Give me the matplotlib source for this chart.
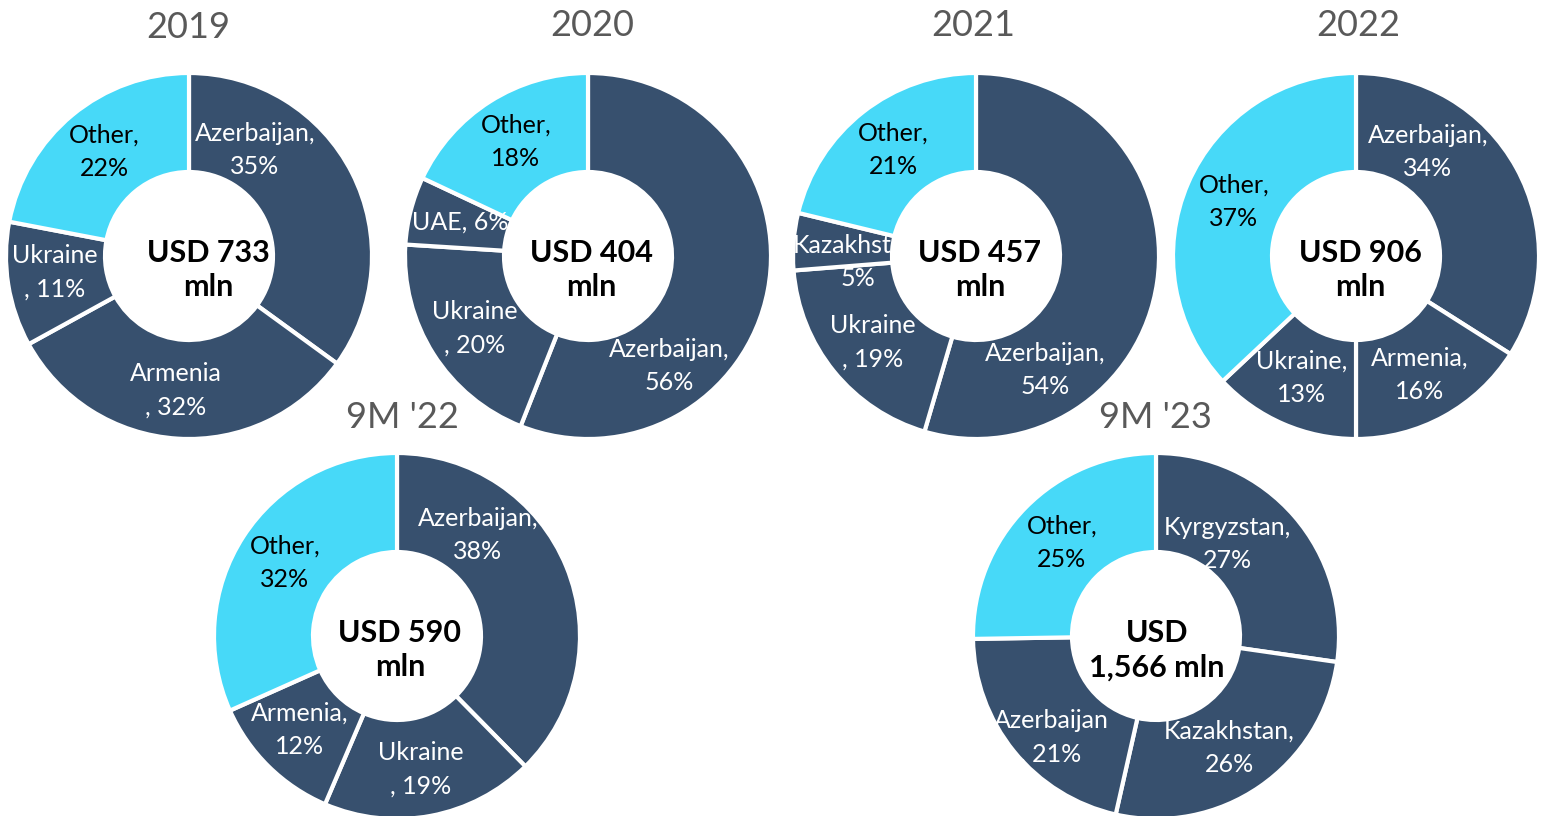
import matplotlib.pyplot as plt
from matplotlib.patches import Circle

plt.rcParams['font.family'] = ['Lato', 'DejaVu Sans']

# ── data ─────────────────────────────────────────────────────────────
titles = ["2019", "2020", "2021", "2022", "9M '22", "9M '23"]
totals = ["USD 733\nmln", "USD 404\nmln", "USD 457\nmln",
          "USD 906\nmln", "USD 590\nmln", "USD\n1,566 mln"]

names_2019 = ["Azerbaijan", "Armenia", "Ukraine", "Other"]
share_2019 = [35, 32, 11, 22]
names_2020 = ["Azerbaijan", "Ukraine", "UAE", "Other"]
share_2020 = [56, 20, 6, 18]
names_2021 = ["Azerbaijan", "Ukraine", "Kazakhstan", "Other"]
share_2021 = [54, 19, 5, 21]
names_2022 = ["Azerbaijan", "Armenia", "Ukraine", "Other"]
share_2022 = [34, 16, 13, 37]
names_9m22 = ["Azerbaijan", "Ukraine", "Armenia", "Other"]
share_9m22 = [38, 19, 12, 32]
names_9m23 = ["Kyrgyzstan", "Kazakhstan", "Azerbaijan", "Other"]
share_9m23 = [27, 26, 21, 25]

names = [names_2019, names_2020, names_2021, names_2022, names_9m22, names_9m23]
shares = [share_2019, share_2020, share_2021, share_2022, share_9m22, share_9m23]

# ── layout (pixel coords, image y downwards) ─────────────────────────
W, H = 1546, 816
centers = [(189, 256), (588, 256), (976, 256), (1356, 256), (397, 636), (1156, 636)]
title_pos = [(188, 28), (592, 25), (973, 25), (1358, 25), (402, 418), (1155, 418)]
total_off = [(19, 14), (3, 14), (4, 14), (4, 14), (3, 14), (1, 14)]
R_OUT, R_IN = 183, 84

# label separator + offset of label centre from donut centre
seps = [
    [",\n", "\n, ", "\n, ", ",\n"],
    [",\n", "\n, ", ", ", ",\n"],
    [",\n", "\n, ", ",\n", ",\n"],
    [",\n", ",\n", ",\n", ",\n"],
    [",\n", "\n, ", ",\n", ",\n"],
    [",\n", ",\n", "\n, ", ",\n"],
]
label_off = [
    [(66, -106), (-13, 134), (-134, 16), (-85, -104)],
    [(81, 110), (-113, 72), (-128, -34), (-72, -114)],
    [(69, 114), (-103, 86), (-118, 6), (-83, -106)],
    [(72, -104), (64, 119), (-54, 122), (-122, -54)],
    [(81, -101), (24, 133), (-97, 94), (-112, -73)],
    [(71, -92), (73, 112), (-105, 101), (-94, -93)],
]

DARK = "#37506E"
LIGHT = "#47D9F8"

fig = plt.figure(figsize=(W / 100, H / 100), dpi=100)
ax = fig.add_axes([0, 0, 1, 1])

for i in range(len(titles)):
    cx, cy = centers[i]
    cy = H - cy
    colors = [LIGHT if n == "Other" else DARK for n in names[i]]
    ax.pie(shares[i], center=(cx, cy), radius=R_OUT, startangle=90,
           counterclock=False, colors=colors,
           wedgeprops=dict(width=R_OUT - R_IN, edgecolor="white", linewidth=3))
    # white hole drawn over labels so overlong labels get hidden
    ax.add_patch(Circle((cx, cy), R_IN, facecolor="white", edgecolor="none", zorder=4))

    for n, v, s, (dx, dy) in zip(names[i], shares[i], seps[i], label_off[i]):
        ax.text(cx + dx, cy - dy, f"{n}{s}{v}%", ha="center", va="center",
                fontsize=18, linespacing=1.55, zorder=3,
                color="black" if n == "Other" else "white")

    ox, oy = total_off[i]
    ax.text(cx + ox, cy - oy, totals[i], ha="center", va="center",
            fontsize=22, fontweight="bold", linespacing=1.3, zorder=5)

    tx, ty = title_pos[i]
    ax.text(tx, H - ty, titles[i], ha="center", va="center",
            fontsize=26, color="#595959", zorder=5)

ax.set_xlim(0, W)
ax.set_ylim(0, H)
ax.set_aspect("equal")
ax.axis("off")

fig.savefig("out.png", dpi=100)
